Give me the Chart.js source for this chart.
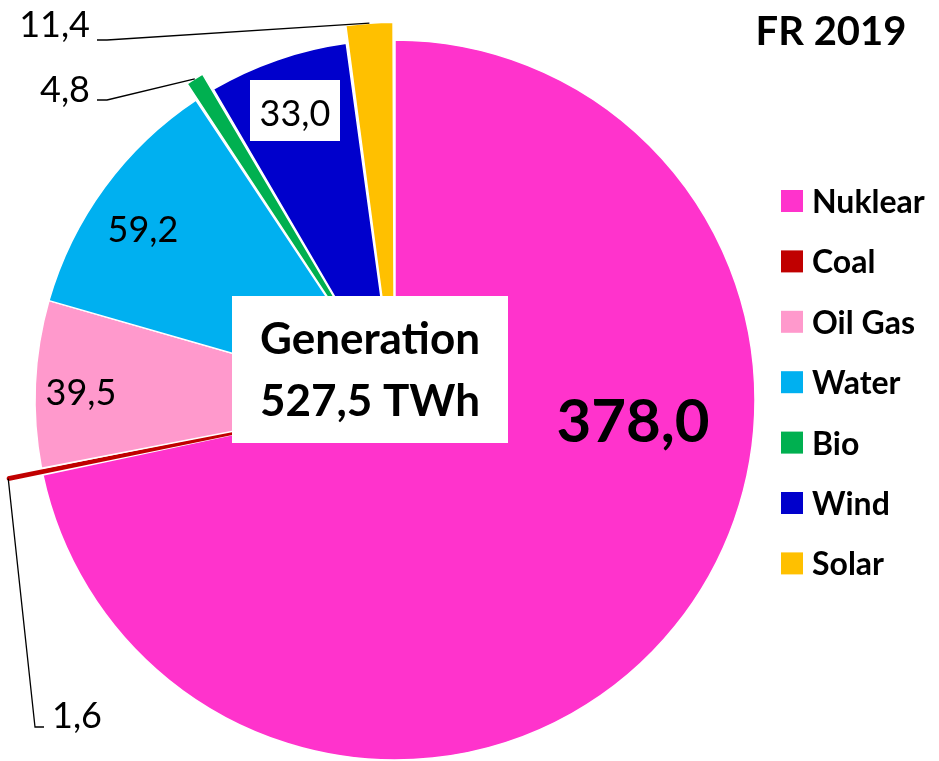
<!DOCTYPE html>
<html>
<head>
<meta charset="utf-8">
<title>FR 2019</title>
<script src="https://cdn.jsdelivr.net/npm/chart.js@4.4.1/dist/chart.umd.min.js"></script>
<style>
  body { margin: 0; background: #fff; }
</style>
</head>
<body>
<canvas id="pieChart" width="939" height="761"></canvas>
<script>
//data, TWh
const categories = ["Nuklear", "Coal", "Oil Gas", "Water", "Bio", "Wind", "Solar"];
const generation = [378.0, 1.6, 39.5, 59.2, 4.8, 33.0, 11.4];
const chartTitle = "FR 2019";
const centerTitle = "Generation";
const unit = "TWh";

//colours for each slice
const sliceColors = ["#FF33CC", "#C00000", "#FF99CC", "#00B0F0", "#00B050", "#0000CC", "#FFC000"];
//white gaps between slices, but the very thin coal slice gets a border in its own colour
const sliceBorders = ["#fff", "#C00000", "#fff", "#fff", "#fff", "#fff", "#fff"];
const sliceBorderWidths = [1.5, 3, 1.5, 1.5, 1.5, 1.5, 1.5];
//the small slices are pulled out of the pie
const sliceOffsets = [0, 70, 0, 0, 38, 0, 38];

const FONT = "Lato, 'Open Sans', sans-serif";

//where each value label goes, relative to the pie centre (x, baseline y)
//leader = extra points of the line from the slice to the label
const labelStyle = [
  { dx: 238, dy: 42, size: 60, bold: true, align: "center" },
  { dx: -343, dy: 328, size: 36, align: "left", leader: [[-360, 327], [-351, 327]] },
  { dx: -314, dy: 5, size: 36, align: "center" },
  { dx: -252, dy: -158, size: 36, align: "center" },
  { dx: -305, dy: -298, size: 36, align: "right", leader: [[-288, -300], [-298, -300]] },
  { dx: -100, dy: -274, size: 36, align: "center", box: [-145, -320, 90, 61] },
  { dx: -305, dy: -363, size: 36, align: "right", leader: [[-288, -360], [-298, -360]] },
];

const fmt = (v) => v.toFixed(1).replace(".", ",");

//outer middle point of an arc, the same way the arc element draws its offset
function outerMid(arc) {
  const off = (arc.options.offset || 0) / 4;
  const fix = 1 - Math.sin(Math.min(Math.PI, arc.circumference || 0));
  const mid = (arc.startAngle + arc.endAngle) / 2;
  const r = arc.outerRadius + off + off * fix;
  return [arc.x + Math.cos(mid) * r, arc.y + Math.sin(mid) * r];
}

const labelsPlugin = {
  id: "pieLabels",
  afterDatasetsDraw(chart) {
    const ctx = chart.ctx;
    const arcs = chart.getDatasetMeta(0).data;
    const cx = arcs[0].x;
    const cy = arcs[0].y;
    ctx.save();

    //leader lines first
    ctx.strokeStyle = "#000";
    ctx.lineWidth = 1.3;
    arcs.forEach((arc, i) => {
      const st = labelStyle[i];
      if (!st.leader) return;
      const p = outerMid(arc);
      ctx.beginPath();
      ctx.moveTo(p[0], p[1]);
      st.leader.forEach(([x, y]) => ctx.lineTo(cx + x, cy + y));
      ctx.stroke();
    });

    //value labels
    arcs.forEach((arc, i) => {
      const st = labelStyle[i];
      if (st.box) {
        ctx.fillStyle = "#fff";
        ctx.fillRect(cx + st.box[0], cy + st.box[1], st.box[2], st.box[3]);
      }
      ctx.fillStyle = "#000";
      ctx.font = (st.bold ? "bold " : "") + st.size + "px " + FONT;
      ctx.textAlign = st.align;
      ctx.textBaseline = "alphabetic";
      ctx.fillText(fmt(generation[i]), cx + st.dx, cy + st.dy);
    });

    //white box in the middle with the total
    const total = generation.reduce((a, b) => a + b, 0);
    ctx.fillStyle = "#fff";
    ctx.fillRect(cx - 163, cy - 104, 276, 147);
    ctx.fillStyle = "#000";
    ctx.font = "bold 44px " + FONT;
    ctx.textAlign = "center";
    ctx.fillText(centerTitle, cx - 25, cy - 46);
    ctx.fillText(fmt(total) + " " + unit, cx - 25, cy + 16);

    //title top right
    ctx.font = "bold 40px " + FONT;
    ctx.fillText(chartTitle, 831, 45);

    //legend on the right
    ctx.font = "bold 32px " + FONT;
    ctx.textAlign = "left";
    categories.forEach((name, i) => {
      const y = 213 + i * 60.4;
      ctx.fillStyle = sliceColors[i];
      ctx.fillRect(781, y - 23, 22, 22);
      ctx.fillStyle = "#000";
      ctx.fillText(name, 812, y);
    });
    ctx.restore();
  },
};

const pieChart = new Chart(document.getElementById("pieChart"), {
  type: "pie",
  data: {
    labels: categories,
    datasets: [
      {
        data: generation,
        backgroundColor: sliceColors,
        offset: sliceOffsets,
        hoverOffset: 0,
        borderColor: sliceBorders,
        borderWidth: sliceBorderWidths,
      },
    ],
  },
  options: {
    responsive: false,
    animation: false,
    events: [],
    radius: 360,
    layout: { padding: { left: 0, right: 149, top: 39, bottom: 0 } },
    plugins: {
      legend: { display: false },
      tooltip: { enabled: false },
    },
  },
  plugins: [labelsPlugin],
});
</script>
</body>
</html>
